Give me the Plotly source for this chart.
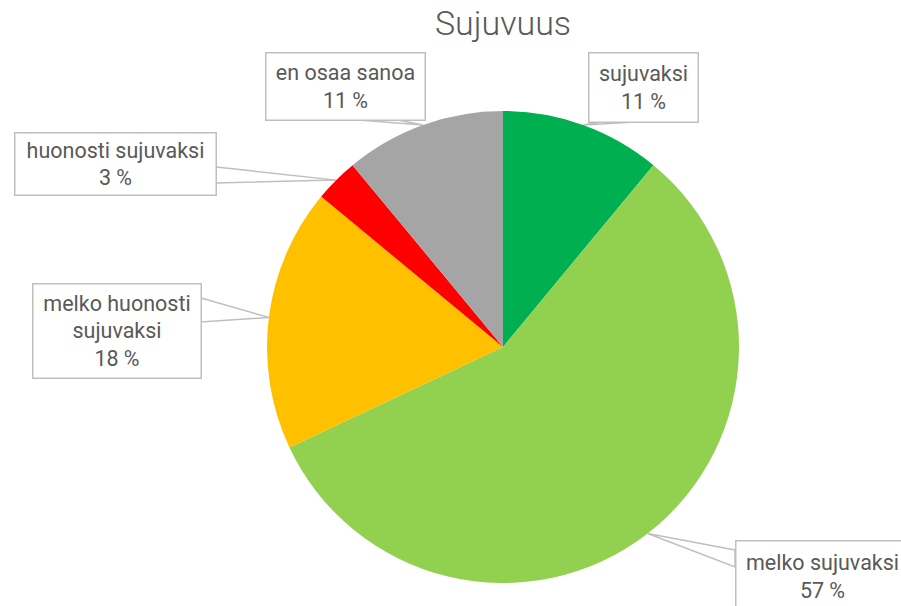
import math
import plotly.graph_objects as go

# ---- data ----
categories = ["sujuvaksi", "melko sujuvaksi", "melko huonosti<br>sujuvaksi",
              "huonosti sujuvaksi", "en osaa sanoa"]
values = [11, 57, 18, 3, 11]
colors = ["#00B050", "#92D050", "#FFC000", "#FF0000", "#A5A5A5"]

# ---- layout constants (pixels) ----
W, H = 901, 606
CX, CY, R = 503, 347, 236
# label boxes: centre x, centre y, width, height
boxes = [
    (643, 87, 110, 70),
    (822, 576, 174, 72),
    (116.5, 330.5, 169, 95),
    (115, 163.5, 202, 63),
    (345, 86, 160, 68),
]
# callout base points on box edge (pixels)
bases = [
    ((600, 122), (636, 122)),
    ((735, 550), (735, 567)),
    ((201, 298), (201, 322)),
    ((216, 167), (216, 183)),
    ((358, 120), (398, 120)),
]

def px(x):
    return x / W

def py(y):
    return 1 - y / H

fig = go.Figure(go.Pie(
    labels=[c.replace("<br>", " ") for c in categories],
    values=values,
    sort=False,
    direction="clockwise",
    rotation=0,
    marker=dict(colors=colors, line=dict(width=0)),
    textinfo="none",
    hoverinfo="label+percent",
    domain=dict(x=[px(CX - R), px(CX + R)], y=[py(CY + R), py(CY - R)]),
    showlegend=False,
))

total = sum(values)
cum = 0
shapes = []
annotations = []
for i, v in enumerate(values):
    theta = (cum + v / 2) / total * 2 * math.pi
    cum += v
    tx = CX + R * math.sin(theta)
    ty = CY - R * math.cos(theta)
    (x1, y1), (x2, y2) = bases[i]
    shapes.append(dict(
        type="path", xref="paper", yref="paper", layer="below",
        path=f"M {px(x1)},{py(y1)} L {px(tx)},{py(ty)} L {px(x2)},{py(y2)} Z",
        fillcolor="white", line=dict(color="#BFBFBF", width=1.5),
    ))
    bx, by, bw, bh = boxes[i]
    pct = round(v / total * 100)
    annotations.append(dict(
        x=px(bx), y=py(by), xref="paper", yref="paper",
        xanchor="center", yanchor="middle",
        text=f"{categories[i]}<br>{pct} %",
        showarrow=False, align="center", valign="middle",
        width=bw - 2, height=bh - 2, borderpad=0,
        bgcolor="white", bordercolor="#BFBFBF", borderwidth=1.5,
        font=dict(family="Roboto, sans-serif", size=21.5, color="#595959"),
    ))

fig.update_layout(
    width=W, height=H,
    margin=dict(l=0, r=0, t=0, b=0),
    paper_bgcolor="white", plot_bgcolor="white",
    title=dict(text="Sujuvuus", x=px(CX), xanchor="center", y=0.962, yanchor="middle",
               font=dict(family="Roboto, sans-serif", size=34, weight=300, color="#595959")),
    shapes=shapes,
    annotations=annotations,
)

fig.write_html("out.html", config={"displayModeBar": False},
               post_script="document.body.style.margin='0';document.body.style.overflow='hidden';")
